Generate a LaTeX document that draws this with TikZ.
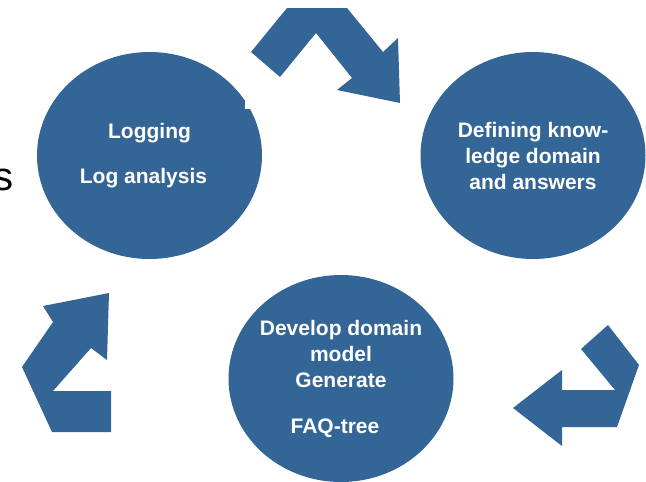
\documentclass[tikz,border=0pt]{standalone}
\usepackage{fontspec}
\setmainfont{Liberation Sans}
\usepackage{tikz}
\usetikzlibrary{shapes.geometric}
\definecolor{slideblue}{RGB}{52,101,151}

\begin{document}
\begin{tikzpicture}[x=1pt, y=-1pt, every node/.style={inner sep=0pt}]
    \tikzset{
      blob/.style={ellipse, fill=slideblue, draw=none,
                   minimum width=225pt, minimum height=207pt},
      blobtext/.style={align=center, text=white,
                       font=\fontsize{21}{26}\selectfont\bfseries},
      turnarrow/.style={fill=slideblue, draw=none}}
    \useasboundingbox (0,0) rectangle (646,482);
    \clip (0,0) rectangle (646,482);
    % circles
    \node[blob] (log) at (149.5,155.5) {};
    \node[blob] (dom) at (533,155.5)   {};
    \node[blob] (faq) at (341,378.5)   {};
    \fill[white] (245,100) rectangle (262,109);
    \node[blobtext] (logtxt) at (log) {Logging\\[19pt]Log analysis\hspace*{12pt}};
    \node[blobtext] (domtxt) at (dom) {Defining know-\\ledge domain\\and answers};
    \node[blobtext] (faqtxt) at (faq) {Develop domain\\model\\Generate\\[20pt]FAQ-tree\hspace*{12pt}};
    % cut-off letter on the left
    \node[anchor=base east, font=\fontsize{40}{48}\selectfont] (cut) at (13.5,190) {s};
    % turning arrows
    \fill[turnarrow] (251,52) -- (287,8) -- (347,8) -- (383,52) -- (398,38)
        -- (400,103) -- (337,90) -- (352,78) -- (316,33) -- (280,77) -- cycle;
    \fill[turnarrow] (581,349) -- (608,325) -- (639,365) -- (617,427) -- (562,427)
        -- (562,446) -- (513,408) -- (562,370) -- (562,390) -- (615,390) -- cycle;
    \fill[turnarrow] (22,367) -- (53,322) -- (43,306) -- (109,293) -- (107,360)
        -- (91,348) -- (53,391) -- (111,391) -- (111,432) -- (52,432) -- cycle;
\end{tikzpicture}
\end{document}
